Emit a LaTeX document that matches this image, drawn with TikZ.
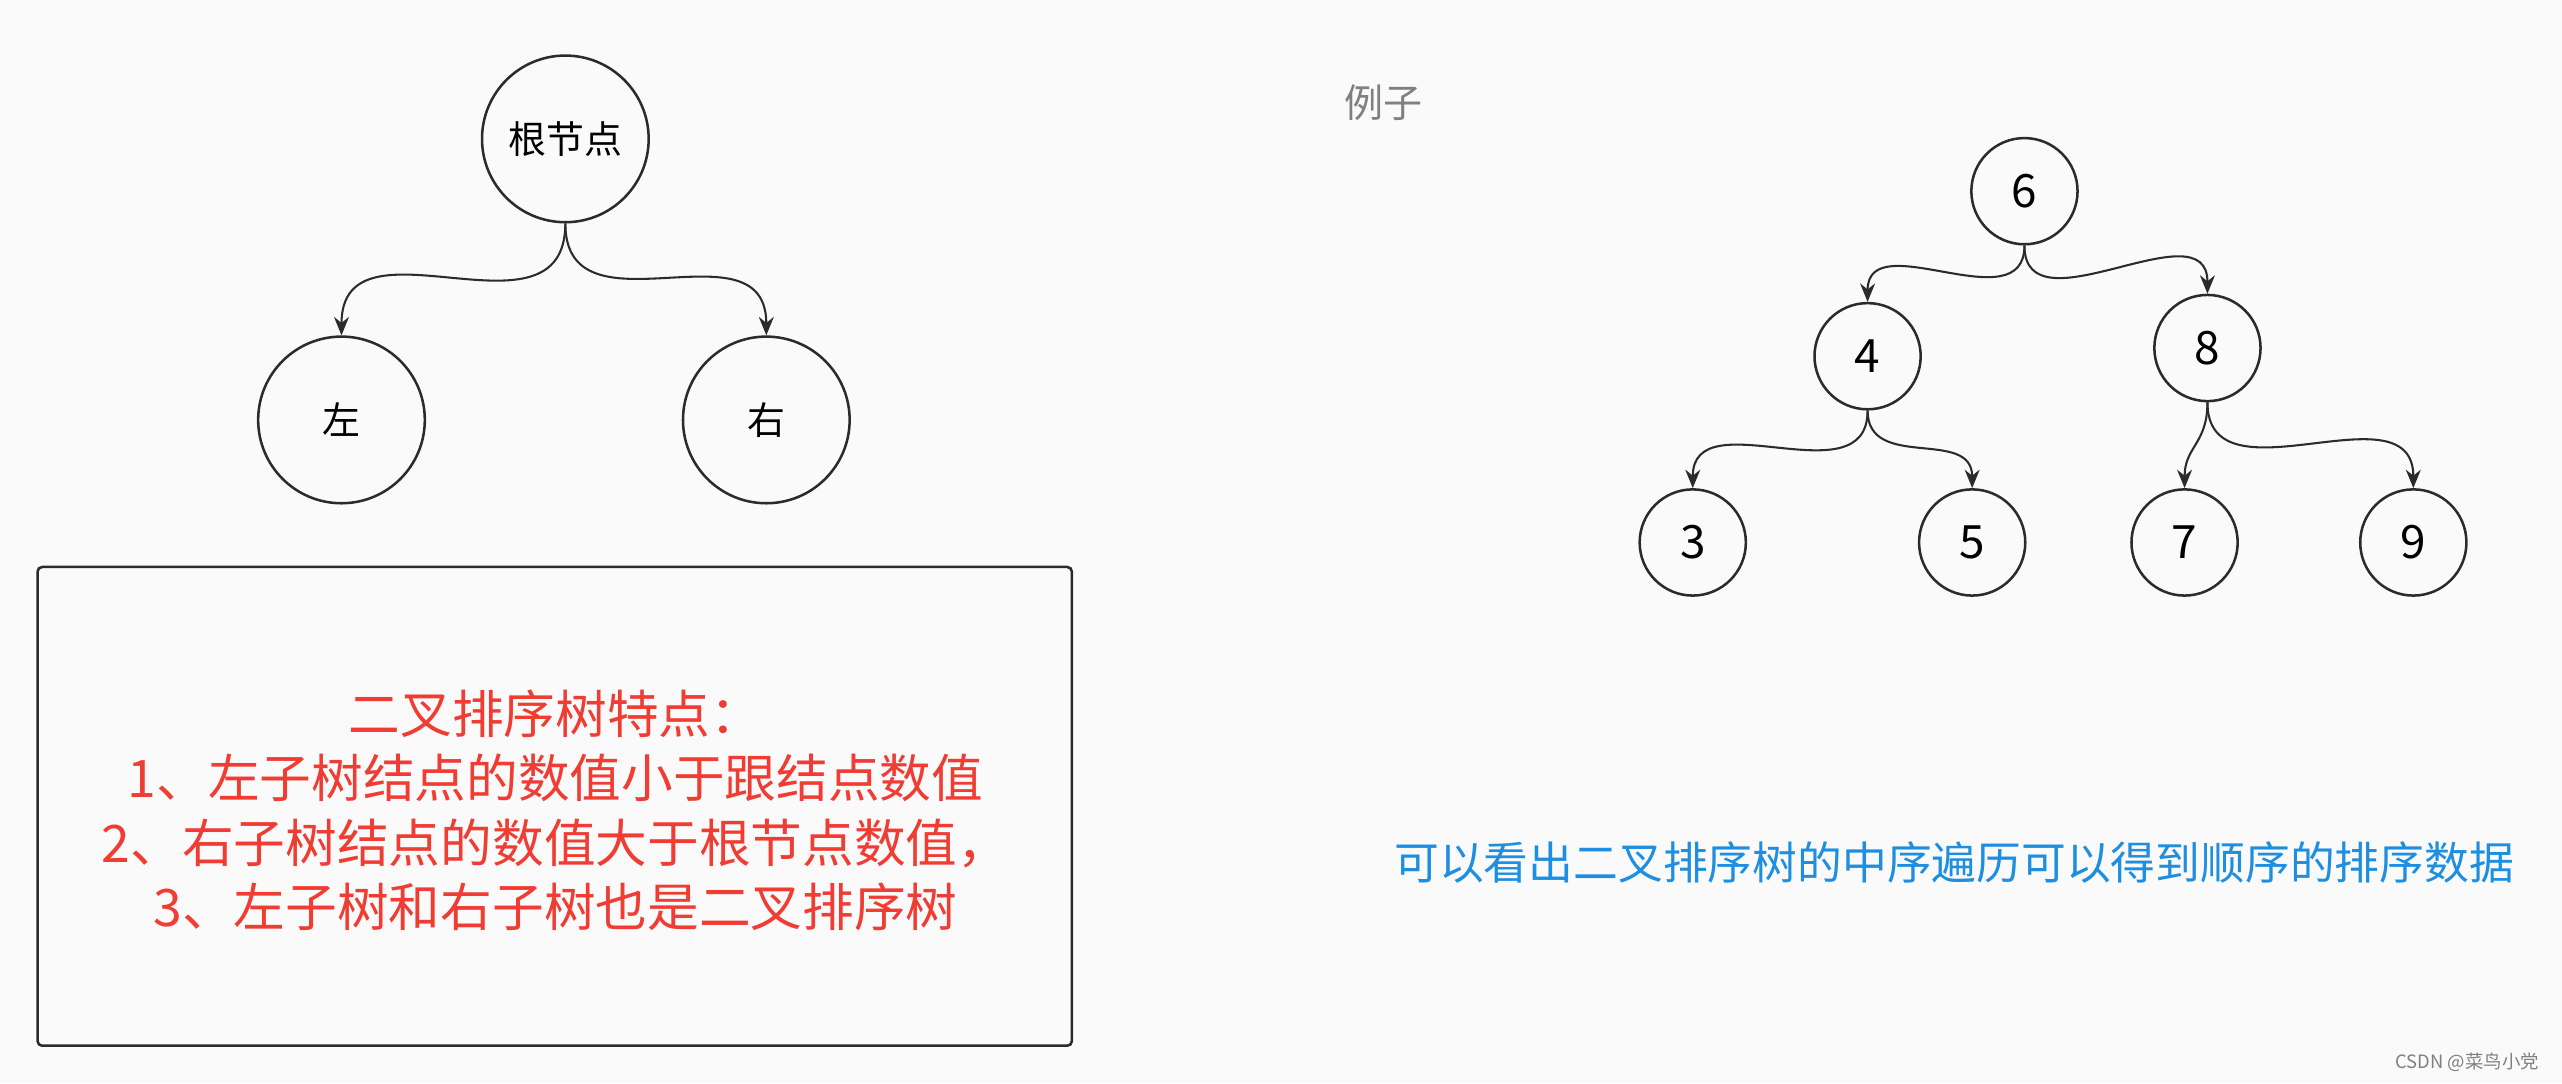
\documentclass[tikz,border=0pt]{standalone}
\usepackage{fontspec}
\setmainfont{Noto Sans CJK SC}
\usetikzlibrary{arrows.meta}
\definecolor{bg}{HTML}{FAFAFA}
\definecolor{ln}{HTML}{2B2B2B}
\definecolor{redt}{HTML}{F03C32}
\definecolor{bluet}{HTML}{1E8FE0}
\begin{document}
\begin{tikzpicture}[x=0.05cm,y=-0.05cm,
  bignode/.style={circle,draw=ln,line width=2.2pt,minimum size=5.1cm,inner sep=0pt,font=\fontsize{33}{40}\selectfont},
  numnode/.style={circle,draw=ln,line width=2.2pt,minimum size=3.25cm,inner sep=0pt,font=\fontsize{40}{48}\selectfont},
  conn/.style={draw=ln,line width=1.8pt,-{Stealth[length=16pt,width=13pt]}},
  ]
\fill[bg] (0,0) rectangle (1568,663);
\useasboundingbox (0,0) rectangle (1568,663);
\node[bignode] (root) at (346,85) {根节点};
\node[bignode] (L) at (209,257) {左};
\node[bignode] (R) at (469,257) {右};
\draw[conn] (root.south) to[out=-90,in=90,looseness=1.3] (L.north);
\draw[conn] (root.south) to[out=-90,in=90,looseness=1.3] (R.north);
\draw[ln,line width=2.2pt,rounded corners=4pt] (23,347) rectangle (656,640);
\node[text=redt,align=center,font=\fontsize{45}{56}\selectfont] (txt) at (340,496) {二叉排序树特点：\\1、左子树结点的数值小于跟结点数值\\2、右子树结点的数值大于根节点数值，\\3、左子树和右子树也是二叉排序树};
\node[text=gray,font=\fontsize{34}{40}\selectfont] (ex) at (847,63) {例子};
\node[numnode] (n6) at (1239,117) {6};
\node[numnode] (n4) at (1143,218) {4};
\node[numnode] (n8) at (1351,213) {8};
\node[numnode] (n3) at (1036,332) {3};
\node[numnode] (n5) at (1207,332) {5};
\node[numnode] (n7) at (1337,332) {7};
\node[numnode] (n9) at (1477,332) {9};
\draw[conn] (n6.south) to[out=-90,in=90,looseness=1.2] (n4.north);
\draw[conn] (n6.south) to[out=-90,in=90,looseness=1.2] (n8.north);
\draw[conn] (n4.south) to[out=-90,in=90,looseness=1.2] (n3.north);
\draw[conn] (n4.south) to[out=-90,in=90,looseness=1.2] (n5.north);
\draw[conn] (n8.south) to[out=-90,in=90,looseness=1.2] (n7.north);
\draw[conn] (n8.south) to[out=-90,in=90,looseness=1.2] (n9.north);
\node[text=bluet,font=\fontsize{39}{46}\selectfont] (blue) at (1196,528) {可以看出二叉排序树的中序遍历可以得到顺序的排序数据};
\node[text=gray,font=\fontsize{16}{20}\selectfont] (wm) at (1510,650) {CSDN @菜鸟小党};
\end{tikzpicture}
\end{document}
